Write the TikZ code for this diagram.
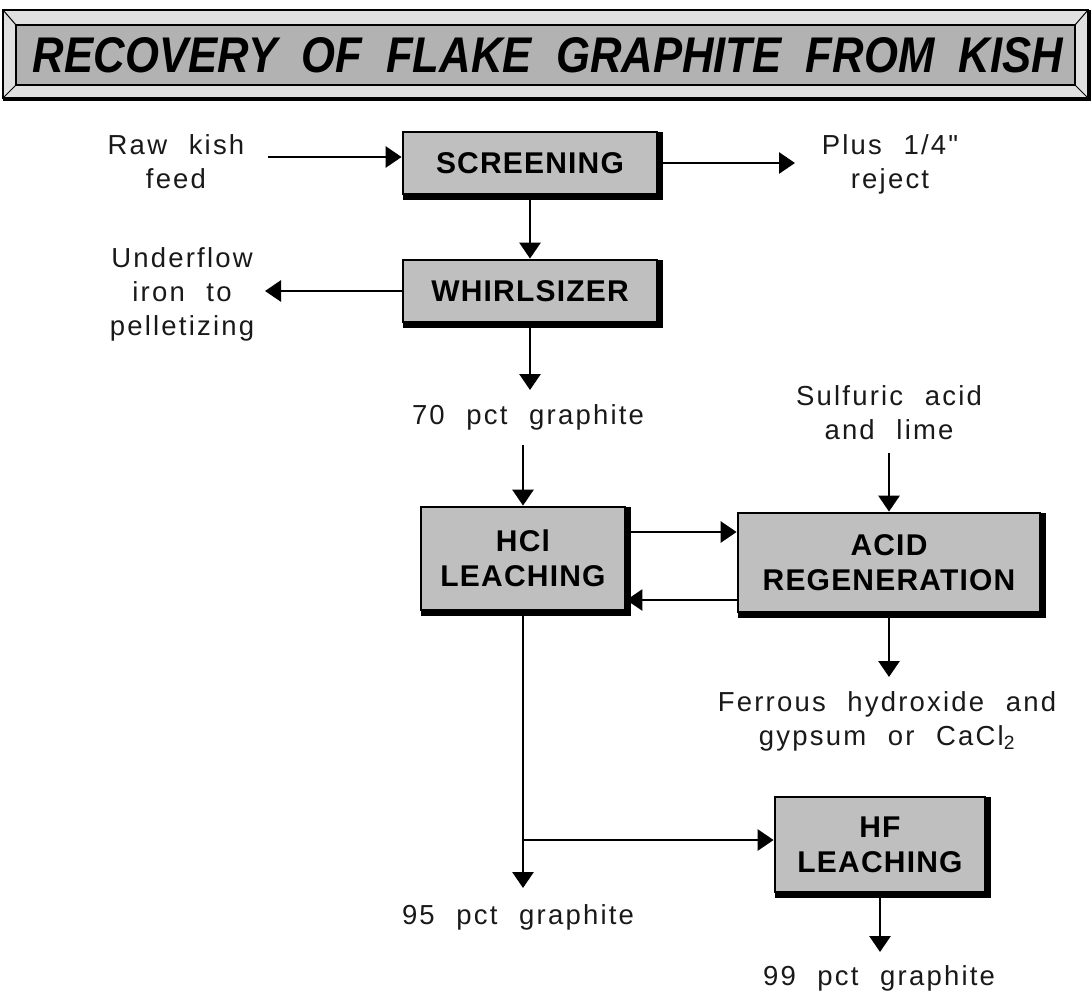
\documentclass[tikz,border=0pt]{standalone}
\usepackage{fontspec}
\setmainfont{Liberation Sans}
\newfontfamily\lab[LetterSpace=8,WordSpace=2.2]{Liberation Sans}
\newfontfamily\bxf[LetterSpace=4]{Liberation Sans}
\usetikzlibrary{arrows.meta}
\begin{document}
\begin{tikzpicture}[x=1pt,y=-1pt,
  lbl/.style={font=\lab\fontsize{27.5}{34}\selectfont, align=center, inner sep=0pt, text=black!90},
  proc/.style={draw, line width=2.8pt, fill=black!25, font=\bxf\bfseries\fontsize{30}{35}\selectfont, align=center, inner sep=0pt},
  arr/.style={line width=2.8pt, -{Triangle[length=16pt,width=21pt]}},
  shadowline/.style={line width=5.5pt, line join=miter}]
\useasboundingbox (0,0) rectangle (1091,993);
% banner
\fill[black!12] (3,10) rectangle (1088,98);
\draw[line width=1.5pt] (3,10) rectangle (1088,98);
\fill[black!30] (16,25) rectangle (1075,85);
\draw[line width=1.5pt] (16,25) rectangle (1075,85);
\draw[line width=1pt] (3,10)--(16,25) (1088,10)--(1075,25) (3,98)--(16,85) (1088,98)--(1075,85);
\draw[line width=4pt] (3,99)--(1089,99)--(1089,10);
\node[inner sep=0pt] (title) at (548,55) {\resizebox{1030pt}{35pt}{\bfseries\itshape RECOVERY\ \ OF\ \ FLAKE\ \ GRAPHITE\ \ FROM\ \ KISH}};
% process boxes
\node[proc, minimum width=254pt, minimum height=62pt] (screen) at (530,163) {SCREENING};
\node[proc, minimum width=254pt, minimum height=62pt] (whirl) at (530,291) {WHIRLSIZER};
\node[proc, minimum width=204pt, minimum height=103pt] (hcl) at (523,558.5) {HCl\\LEACHING};
\node[proc, minimum width=302pt, minimum height=99pt] (acid) at (889,562.5) {ACID\\REGENERATION};
\node[proc, minimum width=210pt, minimum height=95pt] (hf) at (880,844.5) {HF\\LEACHING};
\foreach \n in {screen,whirl,hcl,acid,hf}
  \draw[shadowline] ([shift={(1.5pt,-1.5pt)}]\n.south west) -- ([shift={(1.5pt,-1.5pt)}]\n.south east) -- ([shift={(1.5pt,-1.5pt)}]\n.north east);
% labels
\node[lbl] (raw) at (176,162) {Raw kish\\feed};
\node[lbl] (plus) at (890,164) {Plus 1/4"\\reject};
\node[lbl] (under) at (182,294) {Underflow\\iron to\\pelletizing};
\node[lbl] (g70) at (528,417) {70 pct graphite};
\node[lbl] (sulf) at (889,413) {Sulfuric acid\\and lime};
\node[lbl] (ferr) at (887,721) {Ferrous hydroxide and\\gypsum or CaCl\textsubscript{2}};
\node[lbl] (g95) at (518,917) {95 pct graphite};
\node[lbl] (g99) at (879,978) {99 pct graphite};
% connectors
\coordinate (rawa) at (268,157);
\draw[arr] (rawa) -- (rawa -| screen.west);
\coordinate (plusa) at (795,163);
\draw[arr] (screen.east) -- (plusa);
\draw[arr] (screen.south) -- (whirl.north);
\coordinate (undera) at (265,291);
\draw[arr] (whirl.west) -- (undera);
\coordinate (w70) at (530,390);
\draw[arr] (whirl.south) -- (w70);
\coordinate (s70) at (523,445);
\draw[arr] (s70) -- (hcl.north);
\coordinate (sula) at (889,453);
\draw[arr] (sula) -- (acid.north);
\coordinate (ytop) at (0,532);
\coordinate (ybot) at (0,600);
\draw[arr] (hcl.east |- ytop) -- (acid.west |- ytop);
\draw[arr] (acid.west |- ybot) -- (hcl.east |- ybot);
\coordinate (fera) at (889,677);
\draw[arr] (acid.south) -- (fera);
\coordinate (g95a) at (523,888);
\draw[arr] (hcl.south) -- (g95a);
\coordinate (br) at (523,840);
\draw[arr] (br) -- (hf.west |- br);
\coordinate (g99a) at (880,952);
\draw[arr] (hf.south) -- (g99a);
\end{tikzpicture}
\end{document}
